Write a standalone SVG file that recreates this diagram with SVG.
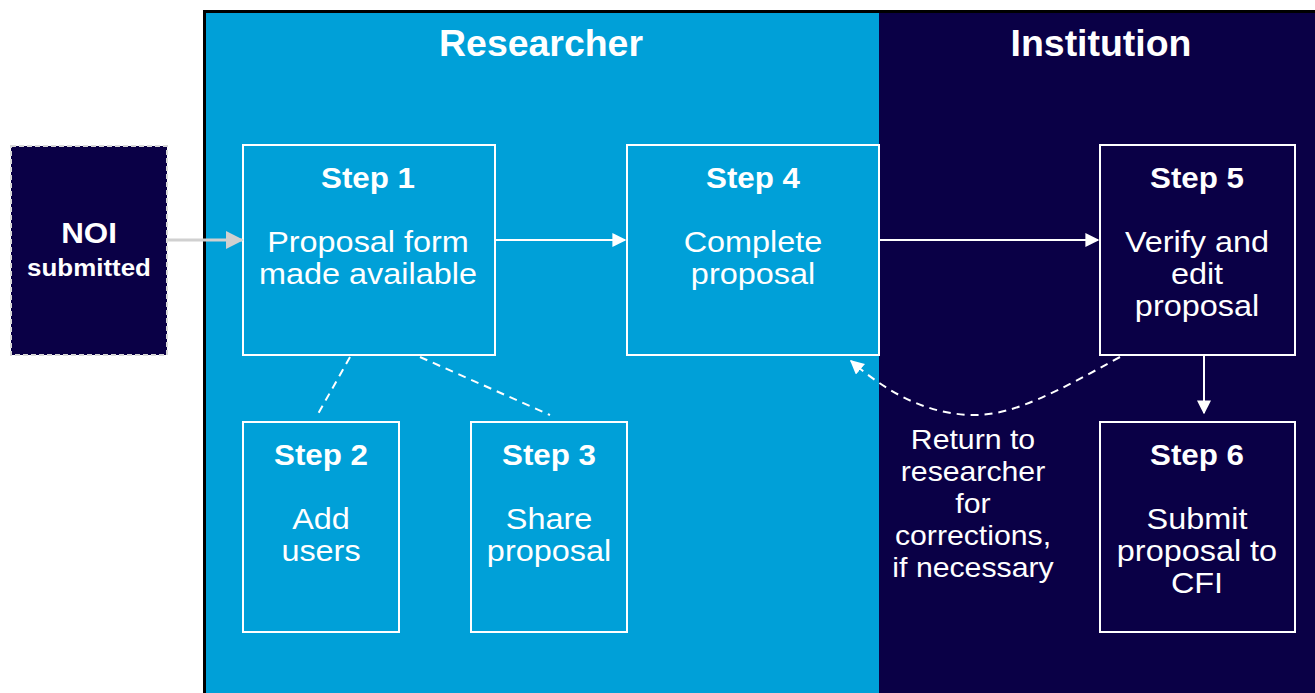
<svg xmlns="http://www.w3.org/2000/svg" width="1315" height="693" viewBox="0 0 1315 693">
<defs>
<style>
.box{fill:none;stroke:#fff;stroke-width:2}
.t{font-family:"Liberation Sans",Arial,sans-serif;fill:#fff;text-anchor:middle}
.h{font-size:29px;font-weight:bold}
.b{font-size:30px}
.lane{font-size:36px;font-weight:bold}
.con{stroke:#fff;stroke-width:2;fill:none}
.dash{stroke:#fff;stroke-width:2;fill:none;stroke-dasharray:8 6}
</style>
<marker id="ah" viewBox="0 0 10 10" refX="9" refY="5" markerWidth="7" markerHeight="7" orient="auto" markerUnits="strokeWidth">
<path d="M0,0 L10,5 L0,10 z" fill="#fff"/>
</marker>
<marker id="ahg" viewBox="0 0 10 10" refX="9" refY="5" markerWidth="6" markerHeight="6" orient="auto" markerUnits="strokeWidth">
<path d="M0,0 L10,5 L0,10 z" fill="#d0d0d0"/>
</marker>
</defs>
<rect width="1315" height="693" fill="#fff"/>
<g id="lanes">
<rect x="203" y="10" width="1112" height="683" fill="#000"/>
<rect x="206" y="13" width="673" height="680" fill="#00A0D8"/>
<rect x="879" y="13" width="436" height="680" fill="#0A0046"/>
<g transform="translate(541,0) scale(1.04 1)"><text class="t lane" x="0" y="56">Researcher</text></g>
<g transform="translate(1101,0) scale(1.04 1)"><text class="t lane" x="0" y="56">Institution</text></g>
</g>
<g id="noi">
<rect x="11" y="146" width="156" height="209" fill="#0A0046" stroke="#d8d8d8" stroke-width="2" stroke-dasharray="5 3"/>
<g transform="translate(89,0) scale(1.08 1)">
<text class="t" x="0" y="243" font-size="29" font-weight="bold">NOI</text>
<text class="t" x="0" y="276" font-size="24" font-weight="bold">submitted</text>
</g>
</g>
<g id="step1">
<rect class="box" x="243" y="145" width="252" height="210"/>
<g transform="translate(368,0) scale(1.08 1)">
<text class="t h" x="0" y="188">Step 1</text>
<text class="t b" x="0" y="252">Proposal form</text>
<text class="t b" x="0" y="284">made available</text>
</g>
</g>
<g id="step2">
<rect class="box" x="243" y="422" width="156" height="210"/>
<g transform="translate(321,0) scale(1.08 1)">
<text class="t h" x="0" y="465">Step 2</text>
<text class="t b" x="0" y="529">Add</text>
<text class="t b" x="0" y="561">users</text>
</g>
</g>
<g id="step3">
<rect class="box" x="471" y="422" width="156" height="210"/>
<g transform="translate(549,0) scale(1.08 1)">
<text class="t h" x="0" y="465">Step 3</text>
<text class="t b" x="0" y="529">Share</text>
<text class="t b" x="0" y="561">proposal</text>
</g>
</g>
<g id="step4">
<rect class="box" x="627" y="145" width="252" height="210"/>
<g transform="translate(753,0) scale(1.08 1)">
<text class="t h" x="0" y="188">Step 4</text>
<text class="t b" x="0" y="252">Complete</text>
<text class="t b" x="0" y="284">proposal</text>
</g>
</g>
<g id="step5">
<rect class="box" x="1100" y="145" width="195" height="210"/>
<g transform="translate(1197,0) scale(1.08 1)">
<text class="t h" x="0" y="188">Step 5</text>
<text class="t b" x="0" y="252">Verify and</text>
<text class="t b" x="0" y="284">edit</text>
<text class="t b" x="0" y="316">proposal</text>
</g>
</g>
<g id="step6">
<rect class="box" x="1100" y="422" width="195" height="210"/>
<g transform="translate(1197,0) scale(1.08 1)">
<text class="t h" x="0" y="465">Step 6</text>
<text class="t b" x="0" y="529">Submit</text>
<text class="t b" x="0" y="561">proposal to</text>
<text class="t b" x="0" y="593">CFI</text>
</g>
</g>
<g id="return-label">
<g transform="translate(973,0) scale(1.08 1)">
<text class="t" x="0" y="449" font-size="28">Return to</text>
<text class="t" x="0" y="481" font-size="28">researcher</text>
<text class="t" x="0" y="513" font-size="28">for</text>
<text class="t" x="0" y="545" font-size="28">corrections,</text>
<text class="t" x="0" y="577" font-size="28">if necessary</text>
</g>
</g>
<g id="connectors">
<line x1="168" y1="240" x2="242" y2="240" stroke="#d0d0d0" stroke-width="3" marker-end="url(#ahg)"/>
<line class="con" x1="496" y1="240" x2="625" y2="240" marker-end="url(#ah)"/>
<line class="con" x1="880" y1="240" x2="1098" y2="240" marker-end="url(#ah)"/>
<line class="con" x1="1204" y1="356" x2="1204" y2="413" marker-end="url(#ah)"/>
<line class="dash" x1="350" y1="357" x2="318" y2="414"/>
<line class="dash" x1="420" y1="357" x2="550" y2="415"/>
<path class="dash" d="M1120,357 C1060,390 1015,415 975,415 C930,415 890,395 851,361" marker-end="url(#ah)"/>
</g>
</svg>
